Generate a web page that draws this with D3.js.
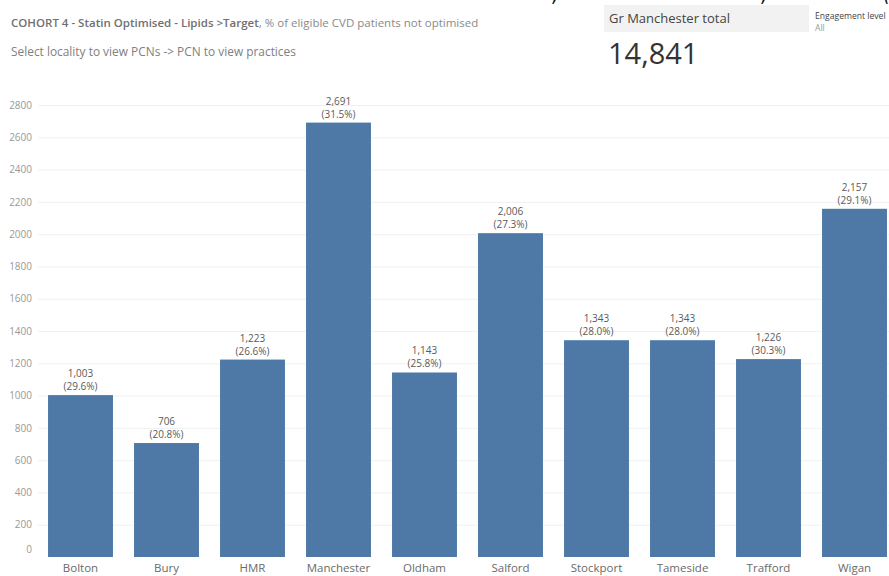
<!DOCTYPE html>
<html>
<head>
<meta charset="utf-8">
<script src="https://cdn.jsdelivr.net/npm/d3@7"></script>
<style>
  body { margin: 0; background: #fff; }
  svg { display: block; font-family: "Open Sans", "Noto Sans", sans-serif; }
</style>
</head>
<body>
<div id="chart"></div>
<script>
// localities and their values
const localities = ["Bolton", "Bury", "HMR", "Manchester", "Oldham", "Salford", "Stockport", "Tameside", "Trafford", "Wigan"];
const patients = [1003, 706, 1223, 2691, 1143, 2006, 1343, 1343, 1226, 2157];
const percents = [29.6, 20.8, 26.6, 31.5, 25.8, 27.3, 28.0, 28.0, 30.3, 29.1];
const yTicks = [0, 200, 400, 600, 800, 1000, 1200, 1400, 1600, 1800, 2000, 2200, 2400, 2600, 2800];

const data = localities.map((d, i) => ({ name: d, value: patients[i], pct: percents[i] }));

const W = 889, H = 576;
const svg = d3.select("#chart").append("svg")
    .attr("width", W)
    .attr("height", H);

// header texts
const title = svg.append("text")
    .attr("x", 11)
    .attr("y", 27)
    .attr("font-size", "11.5px")
    .attr("fill", "#707070");
title.append("tspan").attr("font-weight", 600).text("COHORT 4 - Statin Optimised - Lipids ");
title.append("tspan").attr("font-weight", 600).text(">Target");
title.append("tspan").attr("fill", "#8a8a8a").text(", % of eligible CVD patients not optimised");

svg.append("text")
    .attr("x", 11)
    .attr("y", 56)
    .attr("font-size", "11.9px")
    .attr("fill", "#808080")
    .text("Select locality to view PCNs -> PCN to view practices");

// cropped black glyphs at the very top edge
svg.selectAll(".cut")
    .data([[553, ","], [762, ","], [884, "("]])
    .join("text")
    .attr("x", d => d[0])
    .attr("y", 1)
    .attr("font-size", "22px")
    .attr("font-style", "italic")
    .attr("fill", "#111")
    .text(d => d[1]);

// total box
svg.append("rect")
    .attr("x", 604)
    .attr("y", 5)
    .attr("width", 205)
    .attr("height", 27)
    .attr("fill", "#f2f2f2");
svg.append("text")
    .attr("x", 609)
    .attr("y", 23)
    .attr("font-size", "13px")
    .attr("fill", "#444")
    .text("Gr Manchester total");
svg.append("text")
    .attr("x", 608)
    .attr("y", 64)
    .attr("font-size", "29px")
    .attr("fill", "#333")
    .text(d3.format(",")(d3.sum(patients)));

svg.append("text")
    .attr("x", 815)
    .attr("y", 19)
    .attr("font-size", "8.6px")
    .attr("fill", "#444")
    .text("Engagement level");
svg.append("text")
    .attr("x", 815)
    .attr("y", 31)
    .attr("font-size", "8.6px")
    .attr("fill", "#999")
    .text("All");

// scales
const x = d3.scaleBand()
    .domain(localities)
    .range([37.5, 897.5])
    .paddingInner(0.245)
    .paddingOuter(0.1225);

const y = d3.scaleLinear()
    .domain([0, 2800])
    .range([557, 105]);

// gridlines
svg.append("g")
    .selectAll("line")
    .data(yTicks.slice(1))
    .join("line")
    .attr("x1", 38)
    .attr("x2", W)
    .attr("y1", d => y(d) + 0.5)
    .attr("y2", d => y(d) + 0.5)
    .attr("stroke", "#f0f0f0");

// y axis
const yAxis = svg.append("g")
    .attr("transform", "translate(32,0)")
    .call(d3.axisLeft(y).tickValues(yTicks).tickFormat(d3.format("d")).tickSize(0).tickPadding(0));
yAxis.select(".domain").remove();
yAxis.selectAll("text")
    .attr("font-family", "'Open Sans', sans-serif")
    .attr("font-size", "10px")
    .attr("fill", "#999")
    .attr("dy", d => d === 0 ? "-0.45em" : "0.32em");

// bars
svg.append("g")
    .selectAll("rect")
    .data(data)
    .join("rect")
    .attr("x", d => x(d.name))
    .attr("y", d => y(d.value))
    .attr("width", x.bandwidth())
    .attr("height", d => y(0) - y(d.value))
    .attr("fill", "#4e79a7");

// value labels (count and percentage on two lines)
const lab = svg.append("g")
    .attr("text-anchor", "middle")
    .attr("font-size", "10px")
    .attr("fill", "#5a5a5a");
lab.selectAll(".cnt")
    .data(data)
    .join("text")
    .attr("class", "cnt")
    .attr("x", d => x(d.name) + x.bandwidth() / 2)
    .attr("y", d => y(d.value) - 18)
    .text(d => d3.format(",")(d.value));
lab.selectAll(".pct")
    .data(data)
    .join("text")
    .attr("class", "pct")
    .attr("x", d => x(d.name) + x.bandwidth() / 2)
    .attr("y", d => y(d.value) - 5)
    .text(d => "(" + d.pct.toFixed(1) + "%)");

// x axis
const xAxis = svg.append("g")
    .attr("transform", `translate(0, ${y(0)})`)
    .call(d3.axisBottom(x).tickSize(0).tickPadding(7));
xAxis.select(".domain").remove();
xAxis.selectAll("text")
    .attr("font-family", "'Open Sans', sans-serif")
    .attr("font-size", "11.5px")
    .attr("fill", "#6a6a6a");
</script>
</body>
</html>
